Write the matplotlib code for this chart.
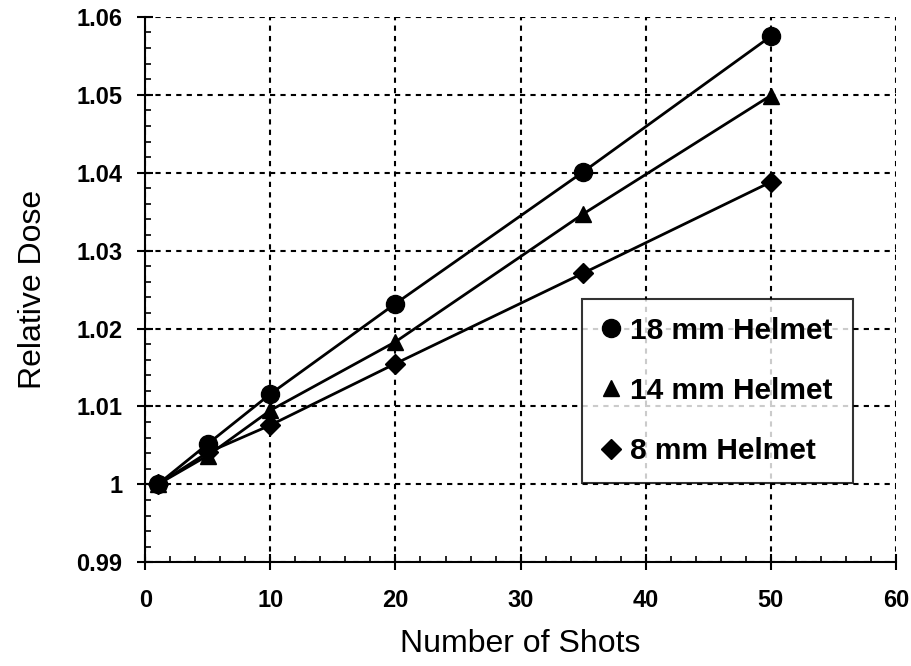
import matplotlib
matplotlib.use("Agg")
import matplotlib.pyplot as plt
from matplotlib.ticker import MultipleLocator

plt.rcParams.update(
    {
        "font.family": ["Liberation Sans", "DejaVu Sans"],
        "font.weight": "bold",
    }
)

# --- Data ---
shots = [1, 5, 10, 20, 35, 50]
dose_18mm = [1.0000, 1.0052, 1.0116, 1.0232, 1.0401, 1.0575]
dose_14mm = [1.0000, 1.0037, 1.0095, 1.0183, 1.0347, 1.0499]
dose_8mm = [1.0000, 1.0041, 1.0076, 1.0155, 1.0271, 1.0388]
labels = ["18 mm Helmet", "14 mm Helmet", "8 mm Helmet"]
ytick_vals = [0.99, 1.0, 1.01, 1.02, 1.03, 1.04, 1.05, 1.06]
ytick_labels = ["0.99", "1", "1.01", "1.02", "1.03", "1.04", "1.05", "1.06"]

fig = plt.figure(figsize=(9.12, 6.66), dpi=100)
ax = fig.add_axes([0.1593, 0.1557, 0.823, 0.819])

series = [(dose_18mm, "o", 13), (dose_14mm, "^", 12), (dose_8mm, "D", 10)]
for (vals, mk, ms), lab in zip(series, labels):
    ax.plot(shots, vals, color="black", linewidth=2, marker=mk, markersize=ms,
            label=lab, clip_on=False, zorder=3)

ax.set_xlim(0, 60)
ax.set_ylim(0.99, 1.06)
ax.xaxis.set_major_locator(MultipleLocator(10))
ax.xaxis.set_minor_locator(MultipleLocator(2))
ax.yaxis.set_minor_locator(MultipleLocator(0.002))
ax.set_yticks(ytick_vals)
ax.set_yticklabels(ytick_labels)

ax.tick_params(axis="both", which="major", direction="inout", length=11, width=1.5,
               labelsize=17)
ax.tick_params(axis="y", which="major", pad=11)
ax.tick_params(axis="x", which="major", pad=14)
ax.tick_params(axis="both", which="minor", direction="in", length=4, width=1.2)

ax.grid(True, which="major", color="black", linestyle=(0, (2.5, 2.5)), linewidth=1.5)
ax.spines["top"].set_visible(False)
ax.spines["right"].set_visible(False)
ax.spines["left"].set_linewidth(1.5)
ax.spines["bottom"].set_linewidth(1.5)

ax.set_xlabel("Number of Shots", fontsize=23, fontweight="normal", labelpad=12)
ax.set_ylabel("Relative Dose", fontsize=23, fontweight="normal", labelpad=20)

leg = ax.legend(loc="lower left", bbox_to_anchor=(0.5817, 0.1455, 0.361, 0.336),
                mode="expand", borderaxespad=0, frameon=True, fancybox=False,
                prop={"size": 21.5, "weight": "bold"}, handlelength=0.76,
                handletextpad=0.25, labelspacing=1.08, borderpad=0.6,
                markerscale=1.0)
leg.get_frame().set_edgecolor("black")
leg.get_frame().set_linewidth(1.5)
for h in leg.get_lines():
    h.set_linestyle("none")

fig.savefig("out.png", dpi=100)
